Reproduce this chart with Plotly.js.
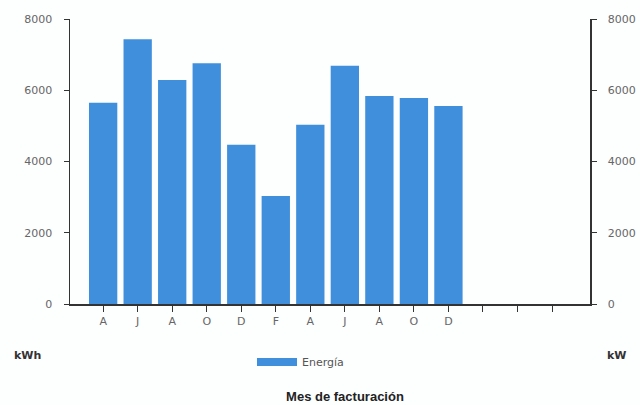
<!DOCTYPE html>
<html>
<head>
<meta charset="utf-8">
<script src="https://cdn.plot.ly/plotly-3.0.1.min.js"></script>
<style>html,body{margin:0;padding:0;background:#fff;}#chart{width:640px;height:405px;}</style>
</head>
<body>
<div id="chart"></div>
<script>
// Data
const monthLabels = ["A", "J", "A", "O", "D", "F", "A", "J", "A", "O", "D", "", "", ""];
const energyValues = [5650, 7430, 6290, 6760, 4470, 3030, 5030, 6690, 5840, 5780, 5560];
const yTickValues = [0, 2000, 4000, 6000, 8000];
const seriesName = "Energía";
const leftUnit = "kWh";
const rightUnit = "kW";
const xTitle = "Mes de facturación";

const xPos = monthLabels.map((_, i) => i);
const barX = energyValues.map((_, i) => i);

const barColor = "#3f8fdc";
const axisColor = "#333";
const tickFont = {family: "DejaVu Sans, Arial, sans-serif", size: 11, color: "#666"};

const traces = [
  {
    type: "bar",
    x: barX,
    y: energyValues,
    name: seriesName,
    legendgroup: "e",
    showlegend: false,
    marker: {color: barColor},
    width: 0.82,
    hoverinfo: "y"
  },
  {
    type: "scatter",
    mode: "lines",
    x: [null],
    y: [null],
    name: seriesName,
    legendgroup: "e",
    showlegend: true,
    line: {color: barColor, width: 8},
    hoverinfo: "skip"
  },
  {
    type: "scatter",
    x: [],
    y: [],
    yaxis: "y2",
    showlegend: false,
    hoverinfo: "skip"
  }
];

const layout = {
  width: 640,
  height: 405,
  paper_bgcolor: "#fdfefe",
  plot_bgcolor: "#fdfefe",
  margin: {l: 70, r: 50, t: 19, b: 101},
  showlegend: true,
  title: {
    text: xTitle,
    font: {family: "Liberation Sans Narrow, Liberation Sans, Arial, sans-serif", size: 13, color: "#222", weight: "bold"},
    x: 345 / 640, xanchor: "center", xref: "container",
    y: 0.022, yanchor: "middle", yref: "container"
  },
  legend: {
    orientation: "h",
    x: 0.35, xanchor: "left",
    y: -0.153, yanchor: "top",
    font: {family: "DejaVu Sans, Arial, sans-serif", size: 11, color: "#555"},
    itemwidth: 40
  },
  xaxis: {
    range: [-0.96, 14.1],
    tickvals: xPos,
    ticktext: monthLabels,
    showline: true,
    linecolor: axisColor,
    linewidth: 1.5,
    ticks: "outside",
    ticklen: 6,
    tickcolor: axisColor,
    showgrid: false,
    zeroline: false,
    tickfont: tickFont
  },
  yaxis: {
    range: [0, 8000],
    tickvals: yTickValues,
    showline: true,
    linecolor: axisColor,
    linewidth: 1.5,
    ticks: "outside",
    ticklen: 5,
    tickcolor: axisColor,
    showgrid: false,
    zeroline: false,
    tickfont: tickFont,
    ticklabelstandoff: 9
  },
  yaxis2: {
    overlaying: "y",
    side: "right",
    range: [0, 8000],
    tickvals: yTickValues,
    showline: true,
    linecolor: axisColor,
    linewidth: 1.5,
    ticks: "outside",
    ticklen: 5,
    tickcolor: axisColor,
    showgrid: false,
    zeroline: false,
    tickfont: tickFont,
    ticklabelstandoff: 9
  },
  annotations: [
    {text: leftUnit, xref: "paper", yref: "paper", x: -0.1115, y: -0.179, xanchor: "left", yanchor: "middle", showarrow: false,
     font: {family: "DejaVu Sans, Arial, sans-serif", size: 11, color: "#333", weight: "bold"}},
    {text: rightUnit, xref: "paper", yref: "paper", x: 1.029, y: -0.179, xanchor: "left", yanchor: "middle", showarrow: false,
     font: {family: "DejaVu Sans, Arial, sans-serif", size: 11, color: "#333", weight: "bold"}}
  ]
};

Plotly.newPlot("chart", traces, layout, {displayModeBar: false, staticPlot: true});
</script>
</body>
</html>
